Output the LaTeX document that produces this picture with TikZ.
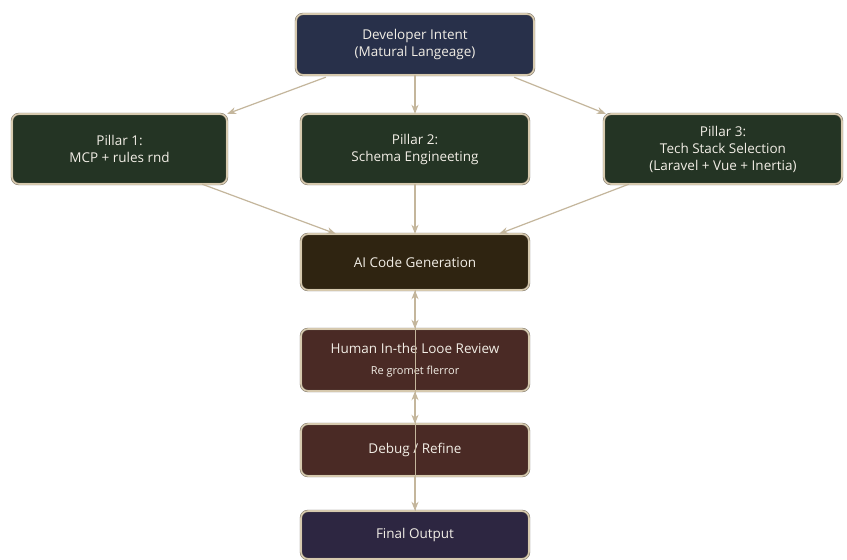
\documentclass[tikz,border=0pt]{standalone}
\usepackage{fontspec}
\setmainfont{Open Sans}
\usetikzlibrary{arrows.meta}
\definecolor{rim}{HTML}{D6C9AE}
\definecolor{rimdark}{HTML}{6E665A}
\definecolor{wire}{HTML}{C4B69C}
\definecolor{txt}{HTML}{F2EEE6}
\definecolor{navy}{HTML}{28304A}
\definecolor{pine}{HTML}{243424}
\definecolor{umber}{HTML}{2F2411}
\definecolor{maroon}{HTML}{4A2A25}
\definecolor{plum}{HTML}{2D2641}

\begin{document}
\begin{tikzpicture}[x=1pt,y=-1pt,
    box/.style={draw=rimdark,double=rim,double distance=1.6pt,rounded corners=7pt,
        text=txt,align=center,font=\fontsize{13.5}{17}\selectfont,
        minimum width=228pt,inner sep=0pt},
    link/.style={draw=wire,line width=1.2pt,-{Stealth[length=9pt,width=7pt]}},
    both/.style={link,{Stealth[length=9pt,width=7pt]}-{Stealth[length=9pt,width=7pt]}}]

\useasboundingbox[fill=white] (0,0) rectangle (847,560);

\node[box,fill=navy,minimum width=238pt,minimum height=61pt] (intent) at (415,44.5)
    {Developer Intent\\(Matural Langeage)};
\node[box,fill=pine,minimum width=215pt,minimum height=70pt] (p1) at (119.5,149)
    {Pillar 1:\\MCP + rules rnd};
\node[box,fill=pine,minimum height=70pt] (p2) at (415,149)
    {Pillar 2:\\Schema Engineeting};
\node[box,fill=pine,minimum width=238pt,minimum height=70pt] (p3) at (723,149)
    {Pillar 3:\\Tech Stack Selection\\(Laravel + Vue + Inertia)};
\node[box,fill=umber,minimum height=56pt] (gen) at (415,262)
    {AI Code Generation};
\node[box,fill=maroon,minimum height=62pt] (hitl) at (415,360)
    {Human In-the Looe Review\\[4pt]{\fontsize{11}{12}\selectfont Re gromet flerror}};
\node[box,fill=maroon,minimum height=52pt] (debug) at (415,450)
    {Debug / Refine};
\node[box,fill=plum,minimum height=48pt] (final) at (415,535)
    {Final Output};

% fan out and back in
\draw[link] (intent.south west) ++(30,2) coordinate (i1) -- (p1.north east);
\draw[link] (intent) -- (p2);
\draw[link] (intent.south east) ++(-20,2) coordinate (i3) -- ([xshift=2pt]p3.north west);
\draw[link] ([xshift=-25pt]p1.south east) -- ([xshift=35pt]gen.north west);
\draw[link] (p2) -- (gen);
\draw[link] ([xshift=25pt]p3.south west) -- ([xshift=-30pt]gen.north east);

% review loop
\draw[wire,line width=0.7pt] (gen.south) -- (final.north);
\draw[both] (gen) -- (hitl);
\draw[both] (hitl) -- (debug);
\draw[link] (debug) -- (final);

\end{tikzpicture}
\end{document}
